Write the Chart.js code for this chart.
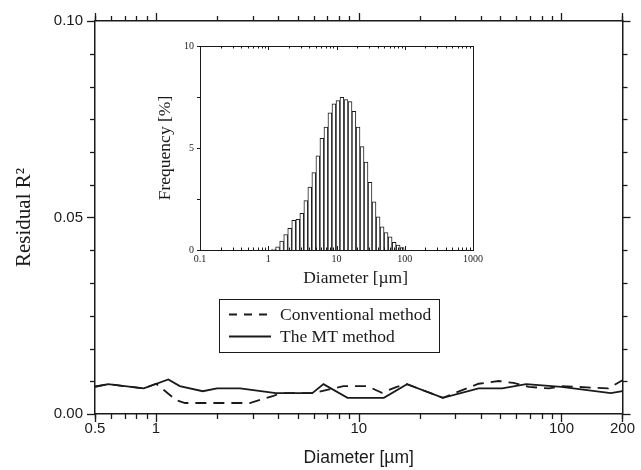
<!DOCTYPE html>
<html>
<head>
<meta charset="utf-8">
<script src="https://cdn.jsdelivr.net/npm/chart.js@4/dist/chart.umd.min.js"></script>
<style>
  html, body { margin: 0; padding: 0; background: #fff; }
  #wrap { position: relative; width: 641px; height: 470px; overflow: hidden; }
  #main { position: absolute; left: 0; top: 0; }
  #inset { position: absolute; left: 130px; top: 34px; }
</style>
</head>
<body>
<div id="wrap">
  <canvas id="main" width="641" height="470"></canvas>
  <canvas id="inset" width="360" height="262"></canvas>
</div>
<script>
// Residual R² against particle diameter for the two inversion methods
const mtDiameter   = [0.5, 0.58, 0.87, 1.15, 1.31, 1.7, 2.0, 2.6, 3.9, 5.9, 6.7, 8.8, 13.3, 17.3, 26, 39, 51, 67, 100, 175, 200];
const mtResidual   = [0.0069, 0.0076, 0.0065, 0.0088, 0.0071, 0.0058, 0.0065, 0.0065, 0.0053, 0.0053, 0.0076, 0.0041, 0.0041, 0.0076, 0.0041, 0.0065, 0.0065, 0.0076, 0.0069, 0.0053, 0.0058];
const convDiameter = [0.5, 0.58, 0.87, 1.0, 1.26, 1.39, 2.9, 3.8, 4.1, 5.9, 8.4, 11, 13, 15.4, 17.3, 26, 30, 39, 49, 58, 69, 87, 100, 170, 200];
const convResidual = [0.0070, 0.0076, 0.0065, 0.0077, 0.0035, 0.0028, 0.0028, 0.0046, 0.0053, 0.0053, 0.0071, 0.0071, 0.0054, 0.0069, 0.0076, 0.0041, 0.0054, 0.0077, 0.0084, 0.0079, 0.0069, 0.0065, 0.0071, 0.0065, 0.0086];
const xTickLabels  = [0.5, 1, 10, 100, 200];
const yTickLabels  = [0, 0.05, 0.1];

// Particle size distribution (inset histogram), log-spaced bins
const binDiameter  = [1.20, 1.37, 1.57, 1.80, 2.06, 2.36, 2.71, 3.10, 3.55, 4.06, 4.65, 5.33, 6.10, 6.99, 8.00, 9.16, 10.5, 12.0, 13.8, 15.8, 18.0, 20.7, 23.7, 27.1, 31.0, 35.5, 40.7, 46.6, 53.3, 61.1, 70.0, 80.1, 91.7];
const binFrequency = [0.05, 0.16, 0.44, 0.76, 1.06, 1.45, 1.50, 1.80, 2.42, 3.09, 3.79, 4.62, 5.48, 6.03, 6.72, 7.17, 7.33, 7.48, 7.37, 7.27, 6.80, 6.03, 5.07, 4.31, 3.32, 2.36, 1.63, 1.14, 0.86, 0.65, 0.37, 0.24, 0.12];
const insetXTickLabels = [0.1, 1, 10, 100, 1000];
const insetYTickLabels = [0, 5, 10];
const insetXTitle = 'Diameter [\u00b5m]';

const INK = '#1a1a1a';
const SERIF = "'Liberation Serif', 'Times New Roman', serif";
const SANS = "'Liberation Sans', Arial, sans-serif";

const toPoints = (xs, ys) => xs.map((x, i) => ({ x, y: ys[i] }));

// 1..9 × 10^n positions between min and max, flagged major on decades
function logTickValues(min, max) {
  const out = [];
  for (let e = Math.floor(Math.log10(min)); e <= Math.ceil(Math.log10(max)); e++) {
    for (let m = 1; m <= 9; m++) {
      const v = m * Math.pow(10, e);
      if (v >= min * 0.999 && v <= max * 1.001) out.push({ v, major: m === 1 });
    }
  }
  return out;
}

function seg(ctx, x1, y1, x2, y2) {
  ctx.beginPath(); ctx.moveTo(x1, y1); ctx.lineTo(x2, y2); ctx.stroke();
}

// Tick marks on all four sides of the main frame
const mainTicks = {
  id: 'mainTicks',
  afterDraw(chart) {
    const { ctx, chartArea: a, scales: { x, y } } = chart;
    ctx.save();
    ctx.strokeStyle = INK;
    ctx.lineWidth = 1.3;
    const xMin = x.min, xMax = x.max;
    for (const t of logTickValues(xMin, xMax)) {
      const px = Math.round(x.getPixelForValue(t.v)) + 0.5;
      const len = t.major ? 8 : 5;
      seg(ctx, px, a.bottom, px, a.bottom + len);
      seg(ctx, px, a.top, px, a.top - len);
    }
    for (const v of [xMin, xMax]) {
      const px = Math.round(x.getPixelForValue(v)) + 0.5;
      seg(ctx, px, a.bottom, px, a.bottom + 8);
      seg(ctx, px, a.top, px, a.top - 8);
    }
    const steps = 12;
    for (let k = 0; k <= steps; k++) {
      const v = y.min + (y.max - y.min) * k / steps;
      const py = Math.round(y.getPixelForValue(v)) + 0.5;
      const len = (k % 6 === 0) ? 8 : 5;
      seg(ctx, a.left - len, py, a.left, py);
      seg(ctx, a.right, py, a.right + len, py);
    }
    ctx.restore();
  }
};

// Boxed legend placed under the inset
const boxLegend = {
  id: 'boxLegend',
  afterDraw(chart) {
    const { ctx } = chart;
    ctx.save();
    ctx.font = '17.5px ' + SERIF;
    const textX = 280;
    const widest = Math.max(...chart.data.datasets.map(ds => ctx.measureText(ds.label).width));
    const box = { left: 219.5, top: 299.5, right: Math.round(textX + widest + 8) + 0.5, bottom: 352.5 };
    ctx.strokeStyle = INK;
    ctx.lineWidth = 1;
    ctx.strokeRect(box.left, box.top, box.right - box.left, box.bottom - box.top);
    ctx.fillStyle = INK;
    ctx.textBaseline = 'middle';
    const rows = [314.5, 336.5];
    chart.data.datasets.forEach((ds, i) => {
      const yy = rows[i];
      ctx.lineWidth = 1.8;
      ctx.setLineDash(ds.borderDash && ds.borderDash.length ? [8, 7] : []);
      seg(ctx, 229, yy, 271, yy);
      ctx.setLineDash([]);
      ctx.fillText(ds.label, textX, yy + 1);
    });
    ctx.restore();
  }
};

new Chart(document.getElementById('main'), {
  type: 'line',
  data: {
    datasets: [
      { label: 'Conventional method', data: toPoints(convDiameter, convResidual),
        borderColor: INK, borderWidth: 1.8, borderDash: [11, 7], pointRadius: 0, tension: 0, fill: false },
      { label: 'The MT method', data: toPoints(mtDiameter, mtResidual),
        borderColor: INK, borderWidth: 1.8, pointRadius: 0, tension: 0, fill: false }
    ]
  },
  options: {
    responsive: false, animation: false, devicePixelRatio: 1,
    layout: { padding: 0 },
    plugins: { legend: { display: false }, tooltip: { enabled: false } },
    scales: {
      x: {
        type: 'logarithmic', position: 'bottom', min: 0.5, max: 200,
        grid: { display: false, drawTicks: false },
        border: { display: true, color: INK, width: 1.5 },
        afterBuildTicks: s => { s.ticks = xTickLabels.map(v => ({ value: v })); },
        afterFit: s => { s.height = 56; },
        ticks: { autoSkip: false, maxRotation: 0, padding: 6, color: INK,
                 font: { family: SANS, size: 15 }, callback: v => String(v) },
        title: { display: true, text: 'Diameter [\u00b5m]', color: INK,
                 font: { family: SANS, size: 17.5, lineHeight: 1 }, padding: { top: 0, bottom: 3 } }
      },
      x2: {
        type: 'logarithmic', position: 'top', min: 0.5, max: 200,
        grid: { display: false, drawTicks: false },
        border: { display: true, color: INK, width: 1.5 },
        ticks: { display: false },
        afterFit: s => { s.height = 20.5; }
      },
      y: {
        type: 'linear', position: 'left', min: 0, max: 0.1,
        grid: { display: false, drawTicks: false },
        border: { display: true, color: INK, width: 1.5 },
        afterBuildTicks: s => { s.ticks = yTickLabels.map(v => ({ value: v })); },
        afterFit: s => { s.width = 95; },
        ticks: { padding: 12, color: INK, font: { family: SANS, size: 15 },
                 callback: v => Number(v).toFixed(2) },
        title: { display: true, text: 'Residual R\u00b2', color: INK,
                 font: { family: SERIF, size: 21, lineHeight: 1 }, padding: { top: 14, bottom: 0 } }
      },
      y2: {
        type: 'linear', position: 'right', min: 0, max: 0.1,
        grid: { display: false, drawTicks: false },
        border: { display: true, color: INK, width: 1.5 },
        ticks: { display: false },
        afterFit: s => { s.width = 13.5; }
      }
    }
  },
  plugins: [mainTicks, boxLegend]
});

// Inset frame ticks (log ticks pointing inward, short outward ticks on the left)
// and the diameter caption, set slightly right of the axis centre
const insetDecor = {
  id: 'insetDecor',
  afterDraw(chart) {
    const { ctx, chartArea: a, scales: { x, y } } = chart;
    ctx.save();
    ctx.strokeStyle = INK;
    ctx.lineWidth = 1;
    for (const t of logTickValues(x.min, x.max)) {
      const px = Math.round(x.getPixelForValue(t.v)) + 0.5;
      const len = t.major ? 4 : 2.5;
      seg(ctx, px, a.bottom, px, a.bottom - len);
      seg(ctx, px, a.top, px, a.top + len);
    }
    for (let k = 0; k <= 4; k++) {
      const v = y.min + (y.max - y.min) * k / 4;
      const py = Math.round(y.getPixelForValue(v)) + 0.5;
      seg(ctx, a.left - 3, py, a.left, py);
    }
    ctx.fillStyle = INK;
    ctx.font = '17.5px ' + SERIF;
    ctx.textAlign = 'center';
    ctx.textBaseline = 'middle';
    ctx.fillText(insetXTitle, a.left + (a.right - a.left) * 0.57, a.bottom + 28);
    ctx.restore();
  }
};

new Chart(document.getElementById('inset'), {
  type: 'bar',
  data: {
    datasets: [{
      label: 'Frequency',
      data: toPoints(binDiameter, binFrequency),
      backgroundColor: '#ffffff', borderColor: INK, borderWidth: 1,
      borderSkipped: 'bottom', barPercentage: 1, categoryPercentage: 1
    }]
  },
  options: {
    responsive: false, animation: false, devicePixelRatio: 1,
    layout: { padding: 0 },
    plugins: { legend: { display: false }, tooltip: { enabled: false } },
    scales: {
      x: {
        type: 'logarithmic', position: 'bottom', min: 0.1, max: 1000, offset: false,
        grid: { display: false, drawTicks: false, offset: false },
        border: { display: true, color: INK, width: 1 },
        afterBuildTicks: s => { s.ticks = insetXTickLabels.map(v => ({ value: v })); },
        afterFit: s => { s.height = 46; },
        ticks: { autoSkip: false, maxRotation: 0, padding: 3, color: INK,
                 font: { family: SERIF, size: 10 }, callback: v => String(v) }
      },
      x2: {
        type: 'logarithmic', position: 'top', min: 0.1, max: 1000, offset: false,
        grid: { display: false, drawTicks: false },
        border: { display: true, color: INK, width: 1 },
        ticks: { display: false },
        afterFit: s => { s.height = 10.5; }
      },
      y: {
        type: 'linear', position: 'left', min: 0, max: 10,
        grid: { display: false, drawTicks: false },
        border: { display: true, color: INK, width: 1 },
        afterBuildTicks: s => { s.ticks = insetYTickLabels.map(v => ({ value: v })); },
        afterFit: s => { s.width = 70; },
        ticks: { padding: 6, color: INK, font: { family: SERIF, size: 10 } },
        title: { display: true, text: 'Frequency [%]', color: INK,
                 font: { family: SERIF, size: 17.5, lineHeight: 1 }, padding: { top: 27, bottom: 0 } }
      },
      y2: {
        type: 'linear', position: 'right', min: 0, max: 10,
        grid: { display: false, drawTicks: false },
        border: { display: true, color: INK, width: 1 },
        ticks: { display: false },
        afterFit: s => { s.width = 17; }
      }
    }
  },
  plugins: [insetDecor]
});
</script>
</body>
</html>
